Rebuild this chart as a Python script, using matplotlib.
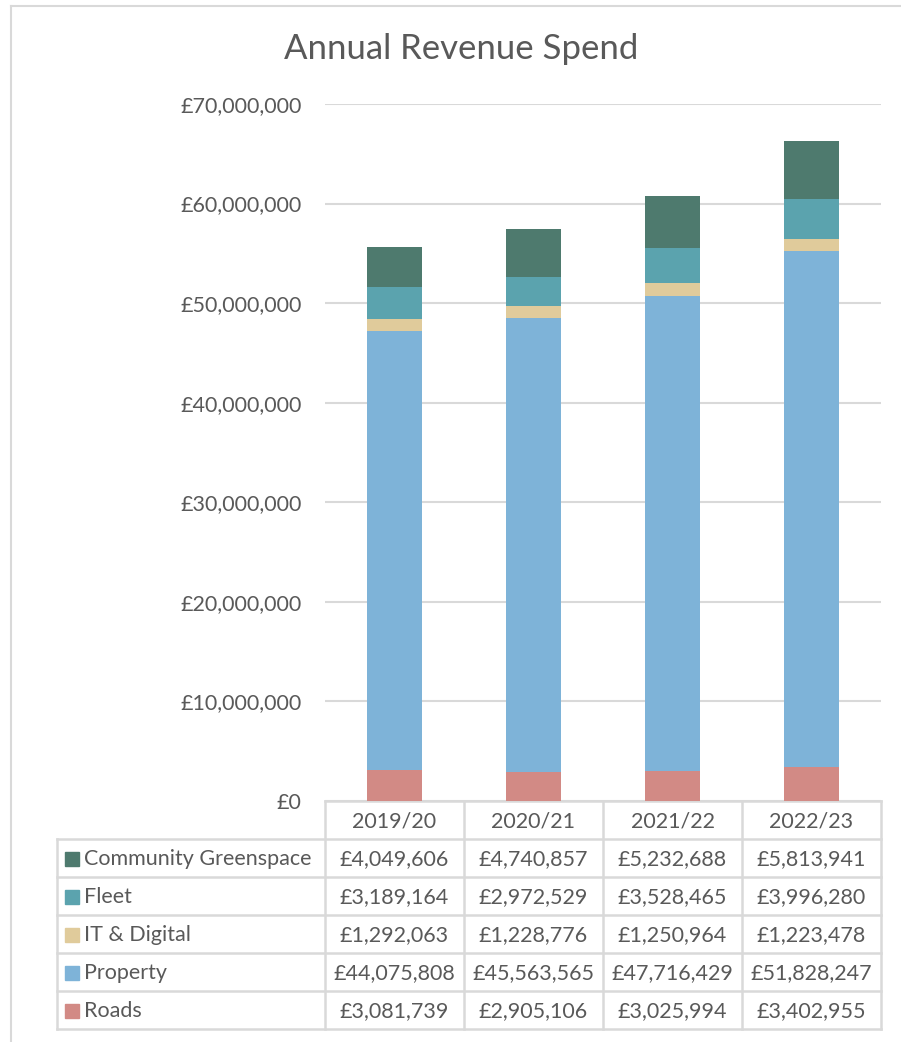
import numpy as np
import matplotlib
matplotlib.use("Agg")
from matplotlib import pyplot as plt
from matplotlib.ticker import FuncFormatter
from matplotlib.patches import Rectangle

years = ["2019/20", "2020/21", "2021/22", "2022/23"]
series_names = ["Roads", "Property", "IT & Digital", "Fleet", "Community Greenspace"]
roads = [3081739, 2905106, 3025994, 3402955]
property_ = [44075808, 45563565, 47716429, 51828247]
it_digital = [1292063, 1228776, 1250964, 1223478]
fleet = [3189164, 2972529, 3528465, 3996280]
greenspace = [4049606, 4740857, 5232688, 5813941]
colors = ["#D28A85", "#7EB3D8", "#E0CB9B", "#5BA3AE", "#4E7A6E"]

plt.rcParams['font.family'] = ['Lato', 'DejaVu Sans']
text_col = "#595959"
grid_col = "#D9D9D9"
fs = 15.5

W, H = 901, 1042
fig = plt.figure(figsize=(W / 100, H / 100), dpi=100)

# plot area in pixels
px_left, px_right, px_top, px_bottom = 325, 881, 104, 801
ax = fig.add_axes([px_left / W, 1 - px_bottom / H, (px_right - px_left) / W, (px_bottom - px_top) / H])

values = [roads, property_, it_digital, fleet, greenspace]
x = np.arange(len(years))
bottom = np.zeros(len(years))
for name, vals, c in zip(series_names, values, colors):
    ax.bar(x, vals, width=0.4, bottom=bottom, color=c, zorder=3, label=name)
    bottom += np.array(vals)

ax.set_xlim(-0.5, len(years) - 0.5)
ax.set_ylim(0, 70000000)
ax.set_yticks(np.arange(0, 70000001, 10000000))
ax.yaxis.set_major_formatter(FuncFormatter(lambda v, p: "£{:,.0f}".format(v)))
ax.grid(axis='y', color=grid_col, linewidth=1.5, zorder=0)
ax.set_xticks([])
for s in ax.spines.values():
    s.set_visible(False)
ax.tick_params(axis='y', length=0, labelsize=fs, labelcolor=text_col, pad=17)

# overlay in pixel coordinates for title, data table and frame
ov = fig.add_axes([0, 0, 1, 1], zorder=-1)
ov.set_xlim(0, W)
ov.set_ylim(H, 0)
ov.axis('off')

ov.plot([11, W], [5.5, 5.5], color=grid_col, lw=1.5)
ov.plot([11, 11], [5.5, H], color=grid_col, lw=1.5)
ov.text(461, 49, "Annual Revenue Spend", ha='center', va='center', fontsize=25, color=text_col)

col_edges = [57, 325, 464, 603, 742, 881]
row_edges = [801, 839, 877, 915, 953, 991, 1029]
lw = 1.8

# header row
for cx in col_edges[1:]:
    ov.plot([cx, cx], [row_edges[0], row_edges[-1]], color=grid_col, lw=lw)
ov.plot([col_edges[1], col_edges[-1]], [row_edges[0], row_edges[0]], color=grid_col, lw=lw)
ov.plot([col_edges[0], col_edges[0]], [row_edges[1], row_edges[-1]], color=grid_col, lw=lw)
for ry in row_edges[1:]:
    ov.plot([col_edges[0], col_edges[-1]], [ry, ry], color=grid_col, lw=lw)

for j, yr in enumerate(years):
    cx = (col_edges[j + 1] + col_edges[j + 2]) / 2
    ov.text(cx, (row_edges[0] + row_edges[1]) / 2 + 1, yr, ha='center', va='center',
            fontsize=fs, color=text_col)

rows = list(zip(series_names, values, colors))[::-1]
for i, (name, vals, c) in enumerate(rows):
    cy = (row_edges[i + 1] + row_edges[i + 2]) / 2 + 1
    ov.add_patch(Rectangle((65, cy - 7), 14, 14, color=c))
    ov.text(84, cy, name, ha='left', va='center', fontsize=fs, color=text_col)
    for j, v in enumerate(vals):
        cx = (col_edges[j + 1] + col_edges[j + 2]) / 2
        ov.text(cx, cy, "£{:,}".format(v), ha='center', va='center', fontsize=fs, color=text_col)

fig.savefig("out.png", dpi=100)
